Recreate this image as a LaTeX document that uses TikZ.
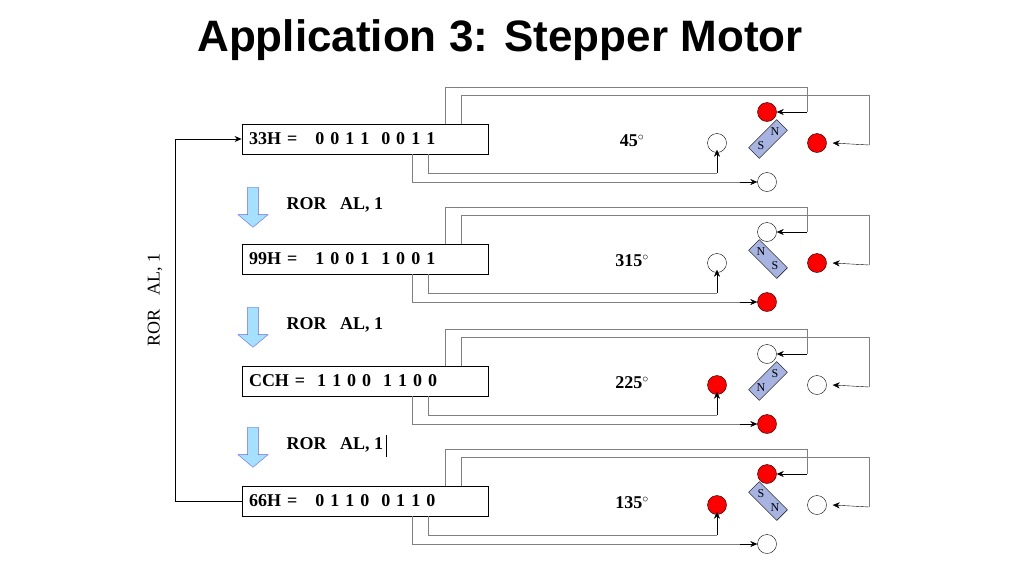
\documentclass[tikz,border=0pt]{standalone}
\usepackage{fontspec}
\setmainfont{Liberation Serif}
\newfontfamily\titlef{Liberation Sans}
\usetikzlibrary{arrows.meta,shapes.arrows}
\begin{document}
\begin{tikzpicture}[x=1pt,y=-1pt,
  reg/.style={draw,thick,minimum width=246pt,minimum height=30pt,inner sep=0,font=\fontsize{18}{20}\bfseries\selectfont},
  coil/.style={circle,draw,minimum size=19pt,inner sep=0},
  on/.style={fill=red},
  off/.style={fill=white},
  wire/.style={draw=gray,thick},
  tip/.style={-{Stealth[length=7pt,width=6pt]},black},
  mag/.style={draw,fill=cyan!35!blue!35},
  ml/.style={font=\fontsize{12}{12}\selectfont,inner sep=0},
  lbl/.style={font=\fontsize{18}{20}\bfseries\selectfont},
  darr/.style={single arrow,draw=blue!60,fill=blue!35!cyan!35,shape border rotate=270,minimum width=30pt,single arrow head extend=4pt,single arrow tip angle=100,minimum height=40pt,inner sep=2pt}]
\useasboundingbox (0,0) rectangle (1024,576);
\node[font=\titlef\fontsize{44}{48}\bfseries\selectfont] (title) at (500,40) {Application 3: Stepper Motor};
\foreach \i/\cy/\hex/\bits/\deg/\t/\l/\r/\b/\sx/\sy in {
 1/139/33H =\ \ /0 0 1 1\ \ 0 0 1 1/45/on/off/on/off/1/-1,
 2/259/99H =\ \ /1 0 0 1\ \ 1 0 0 1/315/off/off/on/on/-1/-1,
 3/381/CCH =\ /1 1 0 0\ \ 1 1 0 0/225/off/on/off/on/-1/1,
 4/501/66H =\ \ /0 1 1 0\ \ 0 1 1 0/135/on/on/off/off/1/1}{
 \node[reg,text width=232pt,align=left] (r\i) at (365,\cy) {\hex\ \bits};
 \node[lbl] (d\i) at (632,\cy+2) {\deg$^{\circ}$};
 \node[coil,\t] (t\i) at (767,\cy-27) {};
 \node[coil,\l] (l\i) at (717,\cy+4) {};
 \node[coil,\r] (g\i) at (817,\cy+4) {};
 \node[coil,\b] (b\i) at (767,\cy+43) {};
 \coordinate (m\i) at (768,\cy);
 \draw[mag] (768+14.1*\sx-5.3*\sy,\cy+14.1*\sy+5.3*\sx) -- (768+14.1*\sx+5.3*\sy,\cy+14.1*\sy-5.3*\sx)
   -- (768-14.1*\sx+5.3*\sy,\cy-14.1*\sy-5.3*\sx) -- (768-14.1*\sx-5.3*\sy,\cy-14.1*\sy+5.3*\sx) -- cycle;
 \node[ml] (mn\i) at (768+7*\sx,\cy+7*\sy) {N};
 \node[ml] (ms\i) at (768-7*\sx,\cy-7*\sy) {S};
 \coordinate (a\i) at (445,\cy-15);
 \coordinate (c\i) at (461,\cy-15);
 \coordinate (e\i) at (412,\cy+15);
 \coordinate (f\i) at (428,\cy+15);
 \draw[wire] (a\i) -- ++(0,-37) -| (807,\cy-27) coordinate (ta\i);
 \draw[tip] (ta\i) -- (t\i.east);
 \draw[wire] (c\i) -- ++(0,-29) -| (869,\cy+6) coordinate (ga\i);
 \draw[tip] (ga\i) -- ([xshift=6pt]g\i.east);
 \draw[wire] (e\i) |- (740,\cy+43) coordinate (ba\i);
 \draw[tip] (ba\i) -- (b\i.west);
 \draw[wire] (f\i) |- (l\i.south |- 0,\cy+34) coordinate (la\i);
 \draw[tip] (la\i) -- ([yshift=3pt]l\i.south);
}
\foreach \i/\y in {1/205,2/325,3/445}{
 \node[darr] (ar\i) at (253,\y) {};
 \node[lbl,anchor=west] (ror\i) at (283,\y) {ROR\ \ \ AL, 1};
}
\draw[thin] (ror3.east) ++(0,-10) -- ++(0,22);
\draw[thick,-{Stealth[length=7pt,width=6pt]}] (r4.west) -- ++(-66,0) |- (r1.west);
\node[lbl,rotate=90,font=\fontsize{18}{20}\selectfont] (loop) at (155,300) {ROR\ \ \ AL, 1};
\end{tikzpicture}
\end{document}
